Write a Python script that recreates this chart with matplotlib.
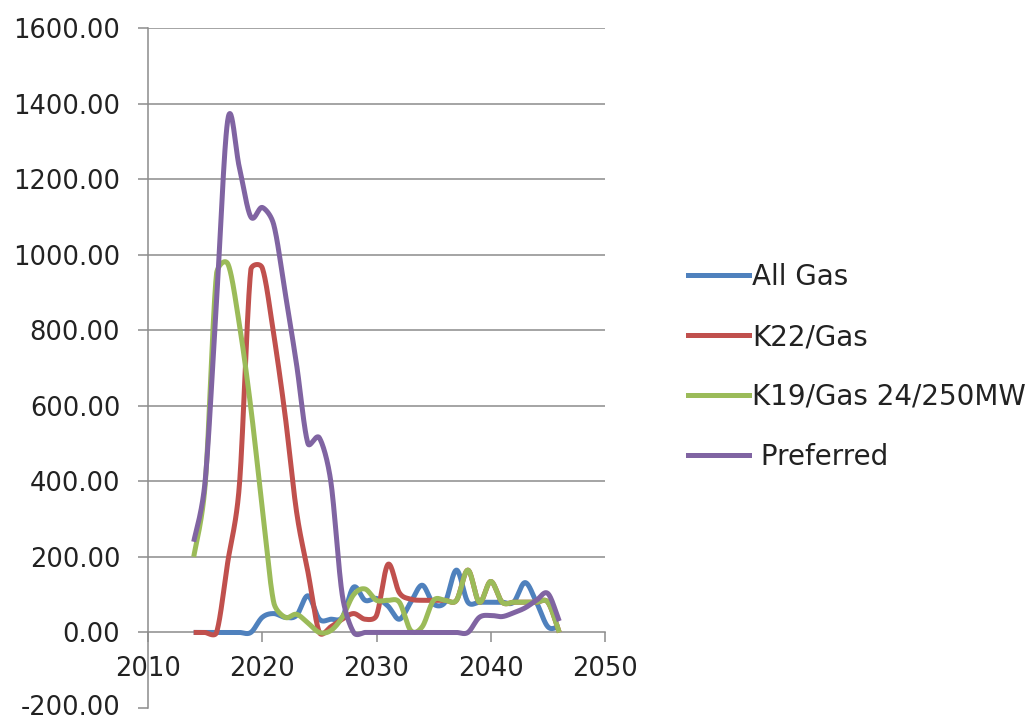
import numpy as np
import matplotlib
matplotlib.use("Agg")
import matplotlib.pyplot as plt
from matplotlib.ticker import FormatStrFormatter
from matplotlib.lines import Line2D

plt.rcParams['axes.unicode_minus'] = False
plt.rcParams['font.family'] = ['DejaVu Sans']

years = list(range(2014, 2047))

all_gas = [0, 0, 0, 0, 0, 0, 40, 50, 40, 45, 97, 35, 35, 40, 120, 85, 90, 70, 35, 80,
           125, 75, 80, 165, 80, 80, 80, 80, 80, 132, 80, 15, 15]
k22_gas = [0, 0, 0, 190, 390, 960, 965, 790, 575, 320, 160, 0, 15, 35, 50, 35, 45, 180, 105, 88,
           85, 85, 85, 85, 165, 80, 135, 80, 80, 80, 80, 80, 0]
k19_gas = [200, 390, 950, 975, 815, 595, 330, 80, 40, 48, 25, 0, 5, 40, 100, 115, 85, 85, 80, 5,
           15, 85, 85, 85, 165, 80, 135, 80, 80, 80, 80, 80, 0]
preferred = [240, 400, 880, 1360, 1230, 1100, 1125, 1080, 900, 710, 500, 515, 400, 100, 0, 0, 0, 0, 0, 0,
             0, 0, 0, 0, 0, 40, 45, 42, 52, 65, 85, 103, 30]

series_names = ["All Gas", "K22/Gas", "K19/Gas 24/250MW", " Preferred"]
colors = ["#4F81BD", "#C0504D", "#9BBB59", "#8064A2"]

y_ticks = list(range(-200, 1601, 200))
x_ticks = [2010, 2020, 2030, 2040, 2050]


def excel_smooth(ax, x, y, n=30):
    """Excel-style smoothed line: Bezier segments with control points
    computed in display (pixel) space, limited to half the segment length."""
    P = ax.transData.transform(np.column_stack([x, y]).astype(float))
    Pe = np.vstack([P[0], P, P[-1]])
    t = np.linspace(0, 1, n, endpoint=False)[:, None]
    out = []
    for i in range(len(P) - 1):
        p0, p1, p2, p3 = Pe[i], Pe[i + 1], Pe[i + 2], Pe[i + 3]
        d02 = np.hypot(*(p2 - p0))
        d12 = np.hypot(*(p2 - p1))
        d13 = np.hypot(*(p3 - p1))
        a = d02 / 6 >= d12 / 2
        b = d13 / 6 >= d12 / 2
        if not a and not b:
            f1 = 1 / 6 if not np.allclose(p0, p1) else 1 / 3
            f2 = 1 / 6 if not np.allclose(p2, p3) else 1 / 3
        elif a and b:
            f1 = d12 / 2 / d02
            f2 = d12 / 2 / d13
        elif a:
            f1 = d12 / 2 / d02
            f2 = d12 / 2 / d02
        else:
            f1 = d12 / 2 / d13
            f2 = d12 / 2 / d13
        c1 = p1 + (p2 - p0) * f1
        c2 = p2 - (p3 - p1) * f2
        pts = (1 - t) ** 3 * p1 + 3 * (1 - t) ** 2 * t * c1 + 3 * (1 - t) * t ** 2 * c2 + t ** 3 * p2
        out.append(pts)
    out.append(P[-1:])
    out = ax.transData.inverted().transform(np.vstack(out))
    return out[:, 0], out[:, 1]


fig = plt.figure(figsize=(10.34, 7.19), dpi=100)
ax = fig.add_axes([148 / 1034, 1 - 708 / 719, (605 - 148) / 1034, (708 - 28) / 719])
ax.set_xlim(2010, 2050)
ax.set_ylim(-200, 1600)

grid_c = "#8c8c8c"
text_c = "#222222"
lw = 3.6

for vals, c in zip([all_gas, k22_gas, k19_gas, preferred], colors):
    sx, sy = excel_smooth(ax, years, vals)
    ax.plot(sx, sy, color=c, lw=lw, solid_capstyle='butt', solid_joinstyle='round', zorder=3)

ax.set_xticks(x_ticks)
ax.set_yticks(y_ticks)
ax.yaxis.set_major_formatter(FormatStrFormatter('%.2f'))

for yv in y_ticks:
    if yv > 0:
        ax.axhline(yv, color=grid_c, lw=1.1, zorder=1)

ax.spines['top'].set_visible(False)
ax.spines['right'].set_visible(False)
ax.spines['bottom'].set_position(('data', 0))
for s in ['left', 'bottom']:
    ax.spines[s].set_color(grid_c)
    ax.spines[s].set_linewidth(1.1)

ax.tick_params(axis='x', direction='out', length=7, width=1.1, color=grid_c,
               labelsize=18.5, labelcolor=text_c, pad=10)
ax.tick_params(axis='y', direction='out', length=7, width=1.1, color=grid_c,
               labelsize=18.5, labelcolor=text_c, pad=13)
ax.patch.set_alpha(0)
# keep the lowest y label fully inside the canvas
ax.yaxis.get_major_ticks()[0].label1.set_va('center')

handles = [Line2D([0], [0], color=c, lw=lw) for c in colors]
leg = fig.legend(handles, series_names, loc='center left', bbox_to_anchor=(688 / 1034, 1 - 367 / 719),
                 frameon=False, fontsize=20, handlelength=2.2, handletextpad=0.1,
                 labelspacing=1.15, borderpad=0, borderaxespad=0)
for txt in leg.get_texts():
    txt.set_color(text_c)

fig.savefig("out.png", dpi=100, facecolor="white")
